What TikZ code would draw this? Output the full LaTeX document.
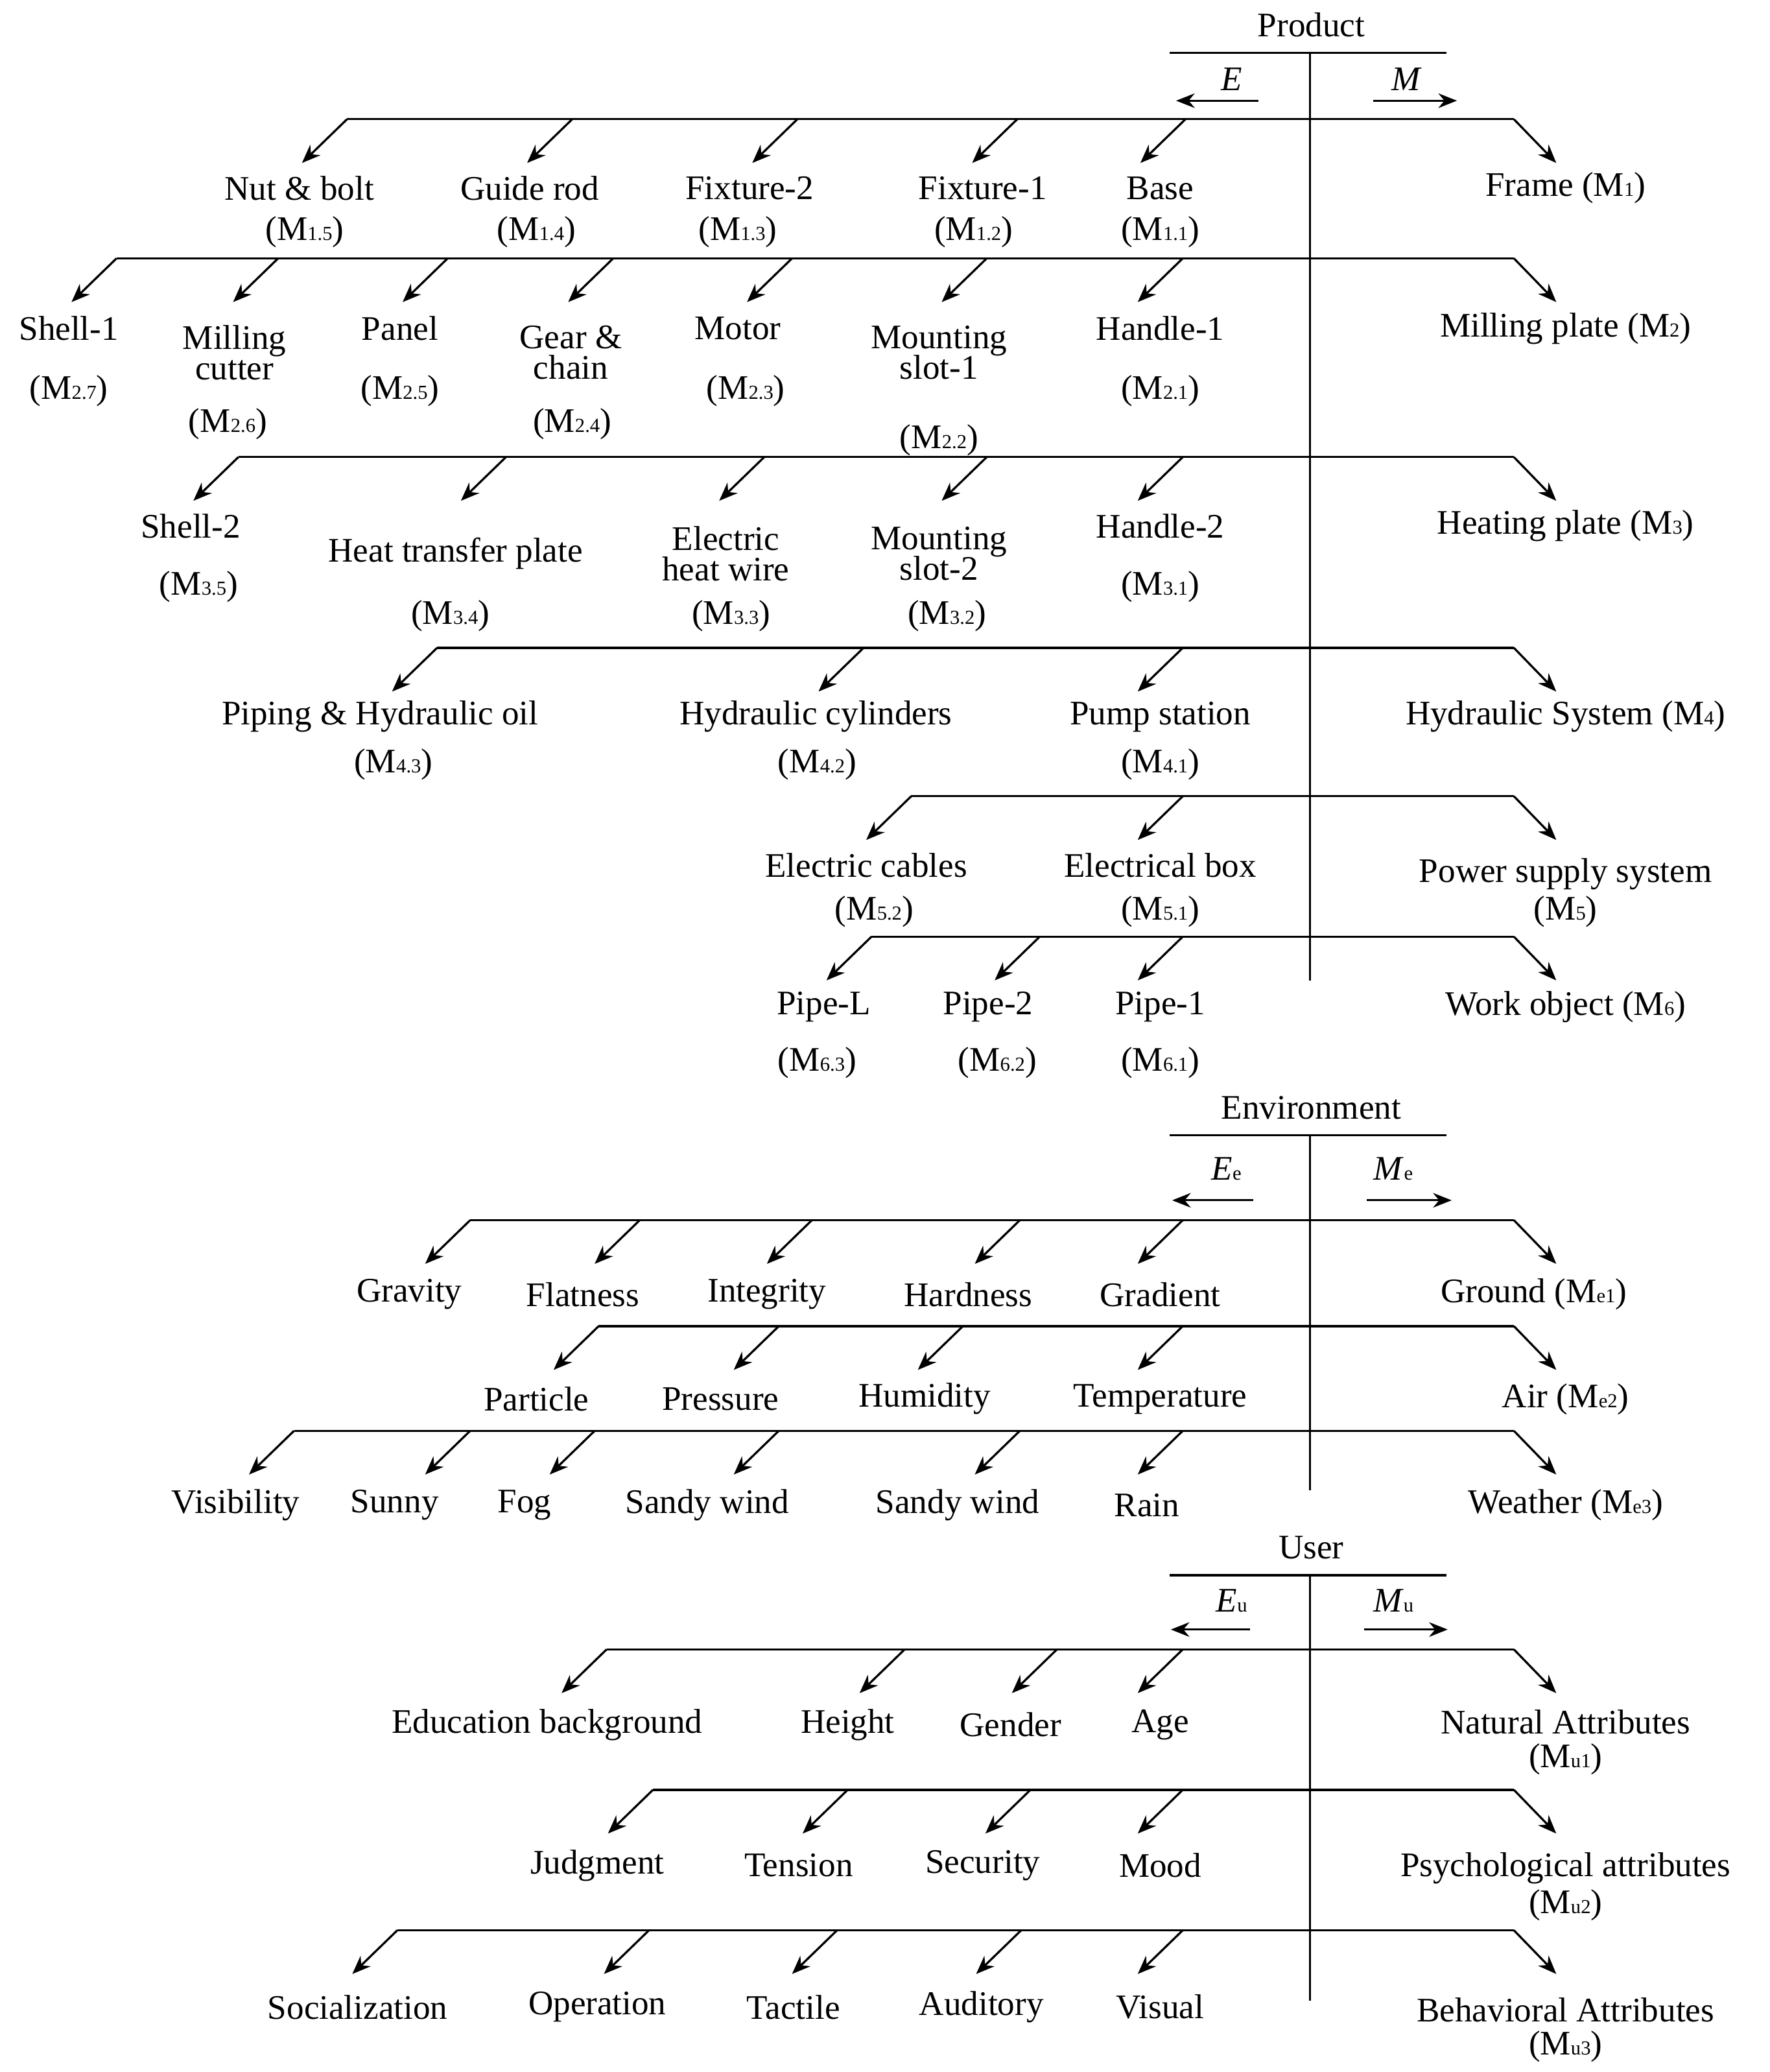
\documentclass[tikz,border=0pt]{standalone}
\usepackage{fontspec}
\setmainfont{Liberation Serif}
\usetikzlibrary{arrows.meta}
\newcommand\smsub[1]{{\fontsize{15}{15}\selectfont #1}}
\newcommand\trow[3]{%
  \draw[ln] (#2,#1) -- (1143,#1);
  \draw[arr] (1143,#1) -- ++(32,33);
  \foreach \xx in {#3} {\draw[arr] (\xx,#1) -- ++(-34,33);}
}
\begin{document}
\begin{tikzpicture}[x=1pt,y=-1pt,
  ln/.style={line width=1.6pt},
  arr/.style={line width=1.6pt,-{Stealth[length=14pt,width=11pt]}},
  lab/.style={font=\fontsize{26}{26}\selectfont,inner sep=0pt,anchor=center}]
\useasboundingbox (0,0) rectangle (1336,1564);
% ---------- Product
\node[lab] (prod) at (990,19) {Product};
\draw[ln] (883,40) -- (1092,40);
\draw[ln] (989,40) -- (989,740);
\draw[arr] (950,76) -- (888,76); \node[lab] at (930,60) {\textit{E}};
\draw[arr] (1037,76) -- (1100,76); \node[lab] at (1062,60) {\textit{M}};
\trow{90}{262}{262,432,602,768,895}
\node[lab] at (226,142) {Nut \& bolt}; \node[lab] at (230,175) {(M\smsub{1.5})};
\node[lab] at (400,142) {Guide rod}; \node[lab] at (405,175) {(M\smsub{1.4})};
\node[lab] at (566,142) {Fixture-2}; \node[lab] at (557,175) {(M\smsub{1.3})};
\node[lab] at (742,142) {Fixture-1}; \node[lab] at (735,175) {(M\smsub{1.2})};
\node[lab] at (876,142) {Base}; \node[lab] at (876,175) {(M\smsub{1.1})};
\node[lab] at (1182,142) {Frame (M\smsub{1})};
\trow{195}{88}{88,210,338,463,598,745,893}
\node[lab] at (52,248) {Shell-1}; \node[lab] at (52,295) {(M\smsub{2.7})};
\node[lab,align=center] at (177,266) {Milling\\[-3pt]cutter}; \node[lab] at (172,320) {(M\smsub{2.6})};
\node[lab] at (302,248) {Panel}; \node[lab] at (302,295) {(M\smsub{2.5})};
\node[lab,align=center] at (431,266) {Gear \&\\[-3pt]chain}; \node[lab] at (432,320) {(M\smsub{2.4})};
\node[lab] at (557,248) {Motor}; \node[lab] at (563,295) {(M\smsub{2.3})};
\node[lab,align=center] at (709,266) {Mounting\\[-3pt]slot-1}; \node[lab] at (709,332) {(M\smsub{2.2})};
\node[lab] at (876,248) {Handle-1}; \node[lab] at (876,295) {(M\smsub{2.1})};
\node[lab] at (1182,248) {Milling plate (M\smsub{2})};
\trow{345}{180}{180,382,577,745,893}
\node[lab] at (144,397) {Shell-2}; \node[lab] at (150,443) {(M\smsub{3.5})};
\node[lab] at (344,418) {Heat transfer plate}; \node[lab] at (340,465) {(M\smsub{3.4})};
\node[lab,align=center] at (548,418) {Electric\\[-3pt]heat wire}; \node[lab] at (552,465) {(M\smsub{3.3})};
\node[lab,align=center] at (709,418) {Mounting\\[-3pt]slot-2}; \node[lab] at (715,465) {(M\smsub{3.2})};
\node[lab] at (876,397) {Handle-2}; \node[lab] at (876,443) {(M\smsub{3.1})};
\node[lab] at (1182,397) {Heating plate (M\smsub{3})};
\trow{489}{330}{330,652,893}
\node[lab] at (287,541) {Piping \& Hydraulic oil}; \node[lab] at (297,577) {(M\smsub{4.3})};
\node[lab] at (616,541) {Hydraulic cylinders}; \node[lab] at (617,577) {(M\smsub{4.2})};
\node[lab] at (876,541) {Pump station}; \node[lab] at (876,577) {(M\smsub{4.1})};
\node[lab] at (1182,541) {Hydraulic System (M\smsub{4})};
\trow{601}{688}{688,893}
\node[lab] at (654,653) {Electric cables}; \node[lab] at (660,688) {(M\smsub{5.2})};
\node[lab] at (876,653) {Electrical box}; \node[lab] at (876,688) {(M\smsub{5.1})};
\node[lab] at (1182,660) {Power supply system}; \node[lab] at (1182,688) {(M\smsub{5})};
\trow{707}{658}{658,785,893}
\node[lab] at (622,760) {Pipe-L}; \node[lab] at (617,802) {(M\smsub{6.3})};
\node[lab] at (746,760) {Pipe-2}; \node[lab] at (753,802) {(M\smsub{6.2})};
\node[lab] at (876,760) {Pipe-1}; \node[lab] at (876,802) {(M\smsub{6.1})};
\node[lab] at (1182,760) {Work object (M\smsub{6})};
% ---------- Environment
\node[lab] (env) at (990,836) {Environment};
\draw[ln] (883,857) -- (1092,857);
\draw[ln] (989,857) -- (989,1125);
\draw[arr] (946,906) -- (885,906); \node[lab] at (926,882) {\textit{E}\smsub{e}};
\draw[arr] (1032,906) -- (1096,906); \node[lab] at (1052,882) {\textit{M}\smsub{e}};
\trow{921}{355}{355,483,613,770,893}
\node[lab] at (309,977) {Gravity}; \node[lab] at (440,977) {Flatness};
\node[lab] at (579,977) {Integrity}; \node[lab] at (731,977) {Hardness};
\node[lab] at (876,977) {Gradient}; \node[lab] at (1158,977) {Ground (M\smsub{e1})};
\trow{1001}{452}{452,588,727,893}
\node[lab] at (405,1056) {Particle}; \node[lab] at (544,1056) {Pressure};
\node[lab] at (698,1056) {Humidity}; \node[lab] at (876,1056) {Temperature};
\node[lab] at (1182,1056) {Air (M\smsub{e2})};
\trow{1080}{222}{222,355,449,588,770,893}
\node[lab] at (178,1136) {Visibility}; \node[lab] at (298,1136) {Sunny};
\node[lab] at (396,1136) {Fog}; \node[lab] at (534,1136) {Sandy wind};
\node[lab] at (723,1136) {Sandy wind}; \node[lab] at (866,1136) {Rain};
\node[lab] at (1182,1136) {Weather (M\smsub{e3})};
% ---------- User
\node[lab] (user) at (990,1168) {User};
\draw[ln] (883,1189) -- (1092,1189);
\draw[ln] (989,1189) -- (989,1510);
\draw[arr] (944,1230) -- (884,1230); \node[lab] at (930,1208) {\textit{E}\smsub{u}};
\draw[arr] (1030,1230) -- (1093,1230); \node[lab] at (1052,1208) {\textit{M}\smsub{u}};
\trow{1245}{458}{458,683,798,893}
\node[lab] at (413,1302) {Education background}; \node[lab] at (640,1302) {Height};
\node[lab] at (763,1302) {Gender}; \node[lab] at (876,1302) {Age};
\node[lab] at (1182,1300) {Natural Attributes}; \node[lab] at (1182,1328) {(M\smsub{u1})};
\trow{1351}{493}{493,640,778,893}
\node[lab] at (451,1408) {Judgment}; \node[lab] at (603,1408) {Tension};
\node[lab] at (742,1408) {Security}; \node[lab] at (876,1408) {Mood};
\node[lab] at (1182,1410) {Psychological attributes}; \node[lab] at (1182,1438) {(M\smsub{u2})};
\trow{1457}{300}{300,490,632,771,893}
\node[lab] at (270,1515) {Socialization}; \node[lab] at (451,1515) {Operation};
\node[lab] at (599,1515) {Tactile}; \node[lab] at (741,1515) {Auditory};
\node[lab] at (876,1515) {Visual};
\node[lab] at (1182,1517) {Behavioral Attributes}; \node[lab] at (1182,1545) {(M\smsub{u3})};
\end{tikzpicture}
\end{document}
